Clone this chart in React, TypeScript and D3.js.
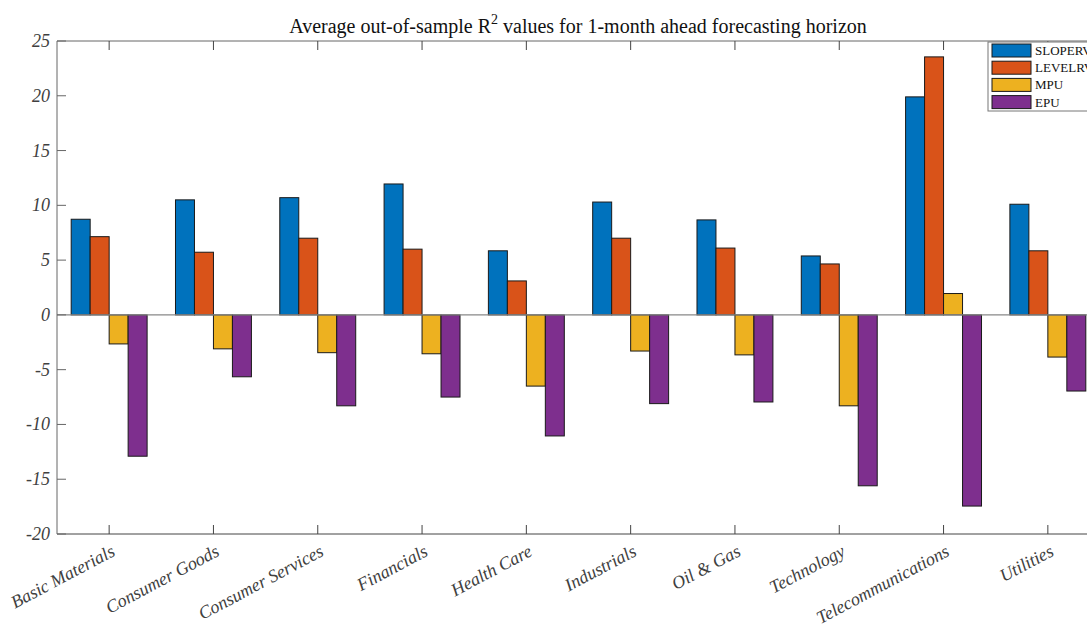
import React from "react";
import * as d3 from "d3";

const categories = ["Basic Materials", "Consumer Goods", "Consumer Services", "Financials", "Health Care", "Industrials", "Oil & Gas", "Technology", "Telecommunications", "Utilities"];
const seriesNames = ["SLOPERV", "LEVELRV", "MPU", "EPU"];
const sloperv = [8.73, 10.5, 10.7, 11.95, 5.85, 10.3, 8.67, 5.38, 19.9, 10.1];
const levelrv = [7.14, 5.72, 7.0, 6.0, 3.1, 7.0, 6.1, 4.65, 23.55, 5.85];
const mpu = [-2.65, -3.1, -3.45, -3.55, -6.5, -3.3, -3.65, -8.3, 1.95, -3.85];
const epu = [-12.9, -5.65, -8.3, -7.5, -11.05, -8.1, -7.95, -15.6, -17.45, -6.95];
const yTicks = [-20, -15, -10, -5, 0, 5, 10, 15, 20, 25];
const colors = ["#0072BD", "#D95319", "#EDB120", "#7E2F8E"];

export default function App() {
  const W = 1087, H = 630;
  const left = 57, top = 41, bottom = 534;
  const step = 104.3;
  const right = left + step * categories.length;
  const series = [sloperv, levelrv, mpu, epu];
  const x = d3.scaleLinear().domain([0.5, categories.length + 0.5]).range([left, right]);
  const y = d3.scaleLinear().domain([-20, 25]).range([bottom, top]);
  const bw = step * 0.182;
  const font = "'Liberation Serif', 'Times New Roman', serif";
  const axisColor = "#666";
  const textColor = "#404040";
  return (
    <svg width={W} height={H} style={{ position: "absolute", left: 0, top: 0 }} fontFamily={font}>
      <rect width={W} height={H} fill="#fff" />
      {series.map((vals, s) =>
        vals.map((v, i) => {
          const cx = x(i + 1) + (s - 1.5) * bw;
          const y0 = y(0), y1 = y(v);
          return (
            <rect key={`${s}-${i}`} x={cx - bw / 2} y={Math.min(y0, y1)} width={bw} height={Math.abs(y1 - y0)}
              fill={colors[s]} stroke="#1a1a1a" strokeWidth={1} />
          );
        })
      )}
      <line x1={left} x2={W} y1={y(0)} y2={y(0)} stroke="#888" strokeWidth={1.2} />
      <line x1={left} x2={W} y1={top} y2={top} stroke={axisColor} strokeWidth={1} />
      <line x1={left} x2={W} y1={bottom} y2={bottom} stroke="#444" strokeWidth={1} />
      <line x1={left} x2={left} y1={top} y2={bottom} stroke={axisColor} strokeWidth={1} />
      {yTicks.map((t) => (
        <g key={t}>
          <line x1={left} x2={left + 9} y1={y(t)} y2={y(t)} stroke={axisColor} />
          <text x={left - 7} y={y(t) + 6} textAnchor="end" fontSize={18} fontStyle="italic" fill={textColor}>{t}</text>
        </g>
      ))}
      {categories.map((c, i) => {
        const tx = x(i + 1);
        return (
          <g key={c}>
            <line x1={tx} x2={tx} y1={bottom} y2={bottom - 9} stroke="#444" />
            <line x1={tx} x2={tx} y1={top} y2={top + 9} stroke="#444" />
            <text transform={`translate(${tx + 7},${bottom + 21}) rotate(-28)`} textAnchor="end" fontSize={18}
              fontStyle="italic" fill={textColor}>{c}</text>
          </g>
        );
      })}
      <text x={578} y={33} textAnchor="middle" fontSize={20} fill="#111">
        Average out-of-sample R<tspan dy={-9} fontSize={14}>2</tspan><tspan dy={9}> values for 1-month ahead forecasting horizon</tspan>
      </text>
      <g>
        <rect x={988} y={42} width={110} height={69} fill="#fff" stroke="#777" strokeWidth={1} />
        {seriesNames.map((n, s) => (
          <g key={n}>
            <rect x={992} y={44 + s * 17.2} width={39} height={13} fill={colors[s]} stroke="#1a1a1a" strokeWidth={1} />
            <text x={1035} y={55 + s * 17.2} fontSize={13} fill="#111">{n}</text>
          </g>
        ))}
      </g>
    </svg>
  );
}
